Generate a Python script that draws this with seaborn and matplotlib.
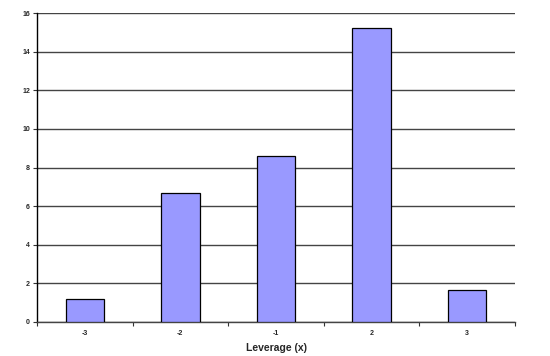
import matplotlib
matplotlib.use("Agg")
import matplotlib.pyplot as plt
import seaborn as sns
import pandas as pd

categories = ["-3", "-2", "-1", "2", "3"]
values = [1.2, 6.7, 8.6, 15.2, 1.65]
y_ticks = [0, 2, 4, 6, 8, 10, 12, 14, 16]

df = pd.DataFrame({"Leverage": categories, "value": values})

sns.set_theme(style="white")
plt.rcParams['font.family'] = ['Liberation Sans', 'DejaVu Sans']

fig = plt.figure(figsize=(5.5, 3.56), dpi=100)
ax = fig.add_axes([37/550, 34/356, (515-37)/550, (322-13)/356])

sns.barplot(data=df, x="Leverage", y="value", order=categories, color="#9999FF",
            saturation=1, width=0.4, edgecolor="black", linewidth=0.9, ax=ax, zorder=3)

ax.set_ylim(0, 16)
ax.set_xlim(-0.5, 4.5)
ax.set_yticks(y_ticks)
ax.set_yticklabels([str(t) for t in y_ticks], fontsize=5, fontweight="bold")
ax.yaxis.grid(True, color="#444444", linewidth=1.0, zorder=0)
ax.set_axisbelow(True)

# x tick labels at bar centres; tick marks at category boundaries
ax.set_xticks(range(len(categories)))
ax.set_xticklabels(categories, fontsize=5, fontweight="bold")
ax.tick_params(axis="x", which="major", length=0, pad=6)
ax.set_xticks([i - 0.5 for i in range(len(categories) + 1)], minor=True)
ax.tick_params(axis="x", which="minor", length=3, width=0.8, color="#333333", direction="out", bottom=True)
ax.tick_params(axis="y", length=3, width=0.8, color="#333333", direction="out", left=True, pad=2)

for s in ["top", "right"]:
    ax.spines[s].set_visible(False)
ax.spines["left"].set_color("black")
ax.spines["left"].set_linewidth(1.0)
ax.spines["bottom"].set_color("#444444")
ax.spines["bottom"].set_linewidth(1.0)

ax.set_ylabel("")
ax.set_xlabel("Leverage (x)", fontsize=7.5, fontweight="bold", labelpad=4)

fig.savefig("out.png", dpi=100)
